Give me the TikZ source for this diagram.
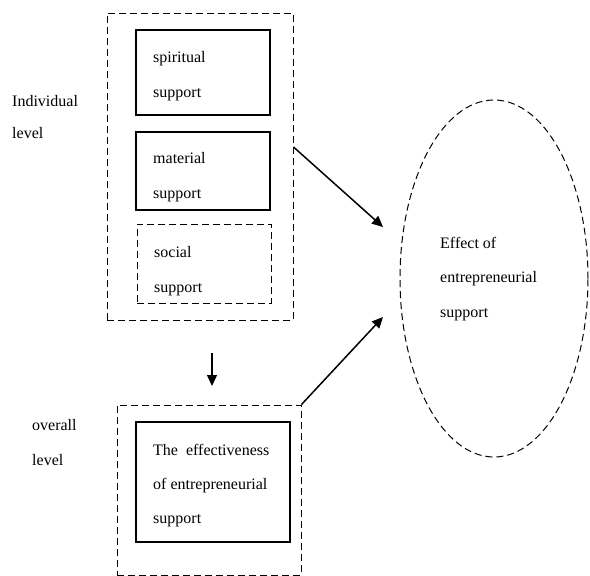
\documentclass[tikz,border=0pt]{standalone}
\usepackage{fontspec}
\setmainfont{Liberation Serif}
\usetikzlibrary{arrows.meta}
\usetikzlibrary{shapes.geometric}

\begin{document}
\begin{tikzpicture}[x=1pt, y=-1pt,
    dashbox/.style={draw, dash pattern=on 7pt off 4pt, line width=1pt},
    solidbox/.style={draw, line width=1.3pt},
    txt/.style={font=\fontsize{16}{34.5}\selectfont, align=left, anchor=base west, inner sep=0pt},
    arr/.style={line width=1.5pt, -{Triangle[length=11pt, width=10pt]}}]
    \useasboundingbox (0,0) rectangle (590,576);

    \node [dashbox, minimum width=186, minimum height=307] (indiv) at (200, 166.5) {};
    \node [solidbox, minimum width=134, minimum height=85] (spirit) at (203, 72.5) {};
    \node [solidbox, minimum width=134, minimum height=78] (material) at (203, 171) {};
    \node [dashbox, minimum width=134, minimum height=79] (social) at (204, 263.5) {};

    \node [dashbox, minimum width=184, minimum height=170] (overall) at (209, 490) {};
    \node [solidbox, minimum width=154, minimum height=120] (effect) at (213, 482) {};

    \node [dashbox, ellipse, minimum width=188, minimum height=357] (result) at (494, 278.5) {};

    \node [txt] (spirittxt) at (153, 97) {spiritual\\support};
    \node [txt] (materialtxt) at (153, 198) {material\\support};
    \node [txt] (socialtxt) at (154, 292) {social\\support};
    \node [txt, font=\fontsize{16}{34}\selectfont] (effecttxt) at (153, 523)
        {The\ \ effectiveness\\of entrepreneurial\\support};
    \node [txt] (resulttxt) at (440, 317) {Effect of\\entrepreneurial\\support};

    \node [txt, font=\fontsize{16}{32}\selectfont] (indlab) at (12, 138) {Individual\\level};
    \node [txt, font=\fontsize{16}{35}\selectfont] (ovlab) at (32, 465) {overall\\level};

    \coordinate (hit1) at (383, 227);
    \coordinate (hit2) at (383, 317);
    \coordinate (dtop) at (212, 353);
    \coordinate (dbot) at (212, 386);

    \draw [arr] ([yshift=19.5pt]indiv.east) -- (hit1);
    \draw [arr] (overall.north east) -- (hit2);
    \draw [arr] (dtop) -- (dbot);
\end{tikzpicture}
\end{document}
